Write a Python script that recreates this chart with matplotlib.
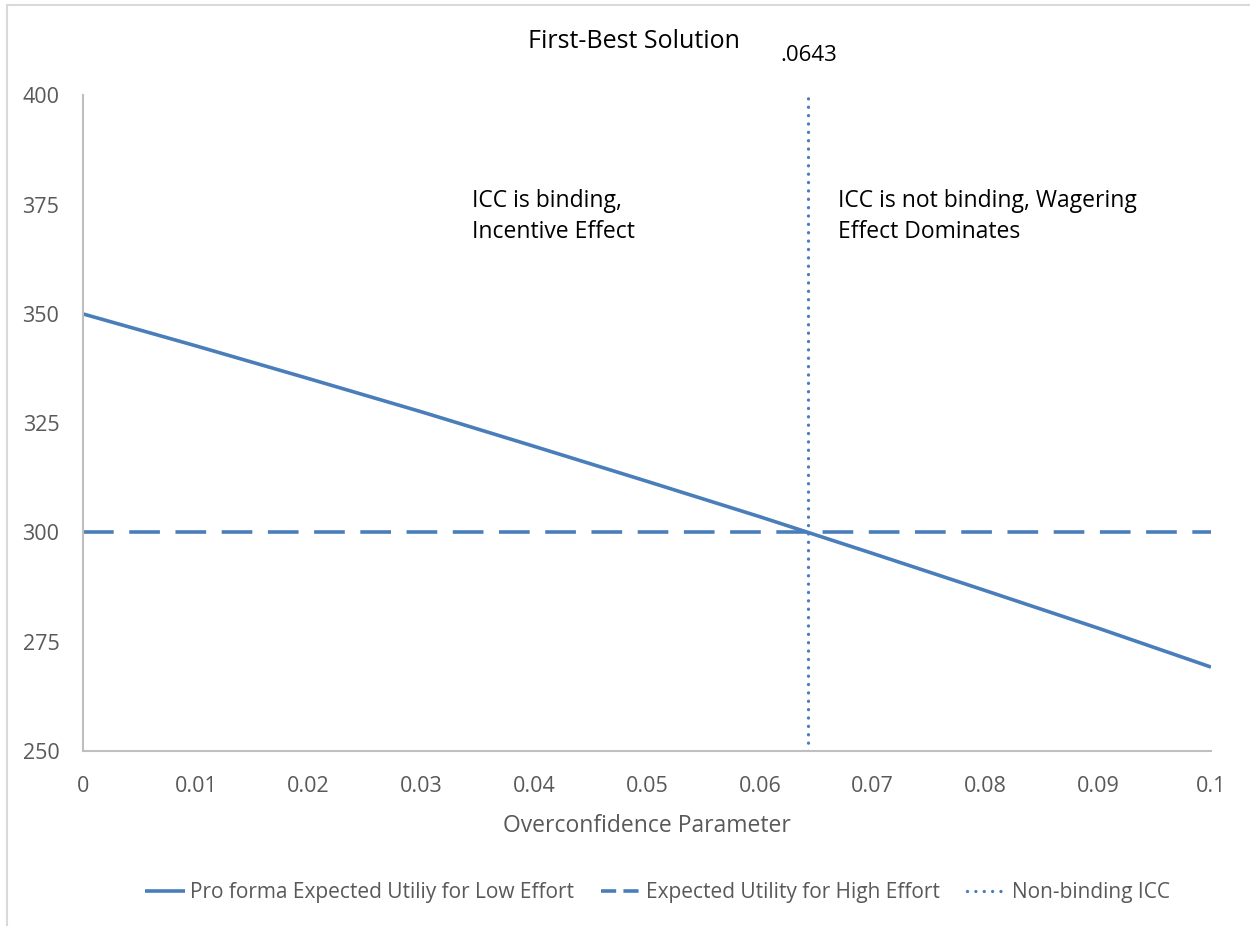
import matplotlib.pyplot as plt
from matplotlib.lines import Line2D

plt.rcParams['font.family'] = ['Open Sans', 'DejaVu Sans']

# overconfidence parameter
x = [0, 0.01, 0.02, 0.03, 0.04, 0.05, 0.06, 0.07, 0.08, 0.09, 0.1]
# pro forma expected utility for low effort
low_effort = [350.0, 342.7, 335.2, 327.6, 319.7, 311.7, 303.6, 295.2, 286.7, 278.1, 269.2]
# expected utility for high effort
high_effort = [300, 300, 300, 300, 300, 300, 300, 300, 300, 300, 300]
# non-binding ICC threshold
icc_x = [0.0643, 0.0643]
icc_y = [250, 400]

blue = '#4A7EBB'
grey_text = '#595959'
axis_grey = '#BFBFBF'

fig = plt.figure(figsize=(12.5, 9.26), dpi=100)
ax = fig.add_axes([0.0664, 0.189, 0.9024, 0.708])

ax.plot(x, low_effort, color=blue, lw=2.6, solid_capstyle='butt')
ax.plot(x, high_effort, color=blue, lw=2.6, dashes=(8.5, 4.3), dash_capstyle='butt')
ax.plot(icc_x, icc_y, color=blue, lw=2.4, linestyle=(0, (0.01, 2.5)),
        dash_capstyle='round')

ax.set_xlim(0, 0.1)
ax.set_ylim(250, 400)
ax.set_xticks([0, 0.01, 0.02, 0.03, 0.04, 0.05, 0.06, 0.07, 0.08, 0.09, 0.1])
ax.set_xticklabels(['0', '0.01', '0.02', '0.03', '0.04', '0.05', '0.06', '0.07',
                    '0.08', '0.09', '0.1'])
ax.set_yticks([250, 275, 300, 325, 350, 375, 400])
ax.tick_params(axis='both', length=0, labelsize=15.5, colors=grey_text)
ax.tick_params(axis='y', pad=17)
ax.tick_params(axis='x', pad=18)

for side in ['top', 'right']:
    ax.spines[side].set_visible(False)
for side in ['left', 'bottom']:
    ax.spines[side].set_color(axis_grey)
    ax.spines[side].set_linewidth(1.5)

ax.set_xlabel('Overconfidence Parameter', fontsize=16.5, color=grey_text, labelpad=12)

fig.text(0.507, 0.955, 'First-Best Solution', ha='center', va='center',
         fontsize=18, color='black')
ax.text(0.0643, 409.2, '.0643', ha='center', va='center', fontsize=16, color='black')

ax.text(0.0345, 378.6, 'ICC is binding,\nIncentive Effect', ha='left', va='top',
        fontsize=16.5, color='black', linespacing=1.4)
ax.text(0.0669, 378.6, 'ICC is not binding, Wagering\nEffect Dominates', ha='left',
        va='top', fontsize=16.5, color='black', linespacing=1.4)

# legend handles (same styles, shorter dash so two dashes show)
handles = [
    Line2D([], [], color=blue, lw=2.6, solid_capstyle='butt'),
    Line2D([], [], color=blue, lw=2.6, dashes=(4.2, 2.0), dash_capstyle='butt'),
    Line2D([], [], color=blue, lw=2.4, linestyle=(0, (0.01, 2.5)), dash_capstyle='round'),
]
labels = ['Pro forma Expected Utiliy for Low Effort',
          'Expected Utility for High Effort',
          'Non-binding ICC']
leg = fig.legend(handles, labels, loc='center', bbox_to_anchor=(0.526, 0.036), ncol=3,
                 frameon=False, fontsize=15, handlelength=1.9, columnspacing=1.3,
                 handletextpad=0.25)
for t in leg.get_texts():
    t.set_color(grey_text)

# chart area border (top and left only visible)
fig.add_artist(Line2D([0.0056, 1.0], [0.9946, 0.9946], color='#D9D9D9', lw=1.5,
                      transform=fig.transFigure))
fig.add_artist(Line2D([0.0056, 0.0056], [0.0, 0.9946], color='#D9D9D9', lw=1.5,
                      transform=fig.transFigure))

fig.savefig('out.png', dpi=100)
